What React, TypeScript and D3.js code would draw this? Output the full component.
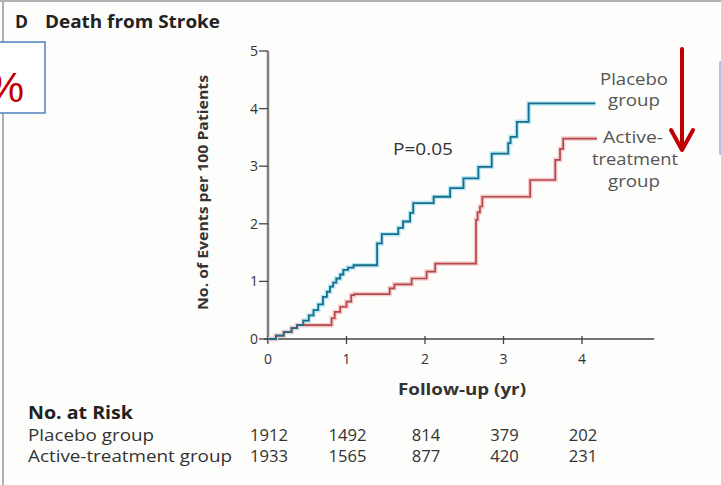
import React from "react";
import * as d3 from "d3";

const xTicks = [0, 1, 2, 3, 4];
const yTicks = [0, 1, 2, 3, 4, 5];

const placeboT = [0, 0.1, 0.2, 0.3, 0.37, 0.45, 0.52, 0.58, 0.64, 0.7, 0.75, 0.79, 0.83, 0.87, 0.92, 0.96, 1.02, 1.09, 1.39, 1.45, 1.66, 1.72, 1.81, 1.85, 2.11, 2.32, 2.49, 2.68, 2.85, 3.06, 3.09, 3.17, 3.32, 4.17];
const placeboV = [0, 0.06, 0.12, 0.19, 0.24, 0.32, 0.41, 0.5, 0.6, 0.73, 0.82, 0.91, 0.98, 1.05, 1.12, 1.2, 1.24, 1.28, 1.66, 1.82, 1.93, 2.04, 2.19, 2.36, 2.47, 2.62, 2.79, 2.99, 3.22, 3.4, 3.51, 3.77, 4.09, 4.09];

const activeT = [0, 0.1, 0.2, 0.3, 0.37, 0.81, 0.85, 0.92, 1.0, 1.06, 1.1, 1.55, 1.61, 1.83, 2.02, 2.13, 2.65, 2.67, 2.7, 2.73, 3.34, 3.66, 3.72, 3.76, 4.19];
const activeV = [0, 0.06, 0.12, 0.19, 0.24, 0.36, 0.47, 0.56, 0.65, 0.76, 0.78, 0.88, 0.95, 1.05, 1.17, 1.31, 2.07, 2.2, 2.3, 2.47, 2.76, 3.11, 3.3, 3.48, 3.48];

const riskGroups = ["Placebo group", "Active-treatment group"];
const riskGroupWidths = [126, 204];
const riskPlacebo = [1912, 1492, 814, 379, 202];
const riskActive = [1933, 1565, 877, 420, 231];

const FONT = "'Open Sans', Lato, sans-serif";
const ADJ = "spacingAndGlyphs";

export default function App() {
  const x = d3.scaleLinear().domain([0, 5]).range([268, 660.5]);
  const y = d3.scaleLinear().domain([0, 5]).range([339, 51]);
  const line = d3
    .line<[number, number]>()
    .x((d) => x(d[0]))
    .y((d) => y(d[1]))
    .curve(d3.curveStepAfter);
  const pData: [number, number][] = placeboT.map((t, i) => [t, placeboV[i]]);
  const aData: [number, number][] = activeT.map((t, i) => [t, activeV[i]]);
  const riskRows = [riskPlacebo, riskActive];

  return (
    <svg
      width={721}
      height={485}
      style={{ position: "fixed", left: 0, top: 0, display: "block" }}
      fontFamily={FONT}
    >
      <rect x={0} y={0} width={721} height={485} fill="#fdfdfb" />
      <line x1={0} x2={721} y1={1} y2={1} stroke="#b0b0b0" strokeWidth={2} />
      <line x1={3} x2={3} y1={0} y2={485} stroke="#b0b0b0" strokeWidth={2} />

      {/* title */}
      <text x={15} y={28} fontSize={17} fontWeight={700} fill="#222" textLength={13} lengthAdjust={ADJ}>D</text>
      <text x={45} y={28} fontSize={17.5} fontWeight={700} fill="#222" textLength={175} lengthAdjust={ADJ}>Death from Stroke</text>

      {/* left callout box */}
      <rect x={-2} y={42} width={47} height={71} fill="#ffffff" stroke="#4f81bd" strokeWidth={1.5} />
      <text x={24} y={102} fontSize={42} fill="#c00000" textAnchor="end" fontFamily="'Liberation Sans', Arial, sans-serif">%</text>

      {/* right callout box */}
      <rect x={720} y={62} width={10} height={92} fill="#ffffff" stroke="#95b3d7" strokeWidth={1.5} />

      {/* y axis */}
      <line x1={x(0)} x2={x(0)} y1={y(0) + 3} y2={y(5)} stroke="#808080" strokeWidth={2.5} />
      {yTicks.map((t) => (
        <g key={"yt" + t}>
          <line x1={x(0) - 9} x2={x(0)} y1={y(t)} y2={y(t)} stroke="#444" strokeWidth={1.3} />
          <text x={x(0) - 10} y={y(t) + 5} fontSize={14} textAnchor="end" fill="#333">{t}</text>
        </g>
      ))}
      <text
        transform={`translate(${208},${192.5}) rotate(-90)`}
        fontSize={14}
        fontWeight={700}
        textAnchor="middle"
        fill="#333"
        textLength={235}
        lengthAdjust={ADJ}
      >
        No. of Events per 100 Patients
      </text>

      {/* x axis */}
      <line x1={x(0) - 4} x2={x(4.92)} y1={y(0)} y2={y(0)} stroke="#444" strokeWidth={1.5} />
      {xTicks.map((t) => (
        <g key={"xt" + t}>
          <line x1={x(t)} x2={x(t)} y1={y(0) - 3} y2={y(0) + 5} stroke="#444" strokeWidth={1.3} />
          <text x={x(t)} y={364} fontSize={14} textAnchor="middle" fill="#333">{t}</text>
        </g>
      ))}
      <text x={462} y={395} fontSize={16} fontWeight={700} textAnchor="middle" fill="#333" textLength={128} lengthAdjust={ADJ}>Follow-up (yr)</text>

      {/* curves */}
      <path d={line(pData) || ""} fill="none" stroke="#b5e8f7" strokeWidth={4.5} />
      <path d={line(aData) || ""} fill="none" stroke="#f5cccc" strokeWidth={4.5} />
      <path d={line(aData) || ""} fill="none" stroke="#b4474d" strokeWidth={1.7} />
      <path d={line(pData) || ""} fill="none" stroke="#1b6c88" strokeWidth={1.8} />

      <text x={393} y={155} fontSize={15.5} fill="#333" textLength={60} lengthAdjust={ADJ}>P=0.05</text>

      {/* curve labels */}
      <g fontSize={16} fill="#555" textAnchor="middle">
        <text x={634} y={85} textLength={68} lengthAdjust={ADJ}>Placebo</text>
        <text x={634} y={106} textLength={52} lengthAdjust={ADJ}>group</text>
        <text x={633} y={143} textLength={60} lengthAdjust={ADJ}>Active-</text>
        <text x={635} y={165} textLength={86} lengthAdjust={ADJ}>treatment</text>
        <text x={634} y={187} textLength={52} lengthAdjust={ADJ}>group</text>
      </g>

      {/* red arrow */}
      <g stroke="#c00000" strokeWidth={4} fill="none" strokeLinecap="round">
        <line x1={682} x2={682} y1={49} y2={148} />
        <polyline points="671,130 682,150 693,130" strokeLinejoin="round" />
      </g>

      {/* risk table */}
      <text x={28} y={419} fontSize={17.5} fontWeight={700} fill="#222" textLength={105} lengthAdjust={ADJ}>No. at Risk</text>
      {riskGroups.map((g, i) => (
        <g key={g}>
          <text x={28} y={441 + i * 21} fontSize={17} fill="#333" textLength={riskGroupWidths[i]} lengthAdjust={ADJ}>{g}</text>
          {riskRows[i].map((n, j) => (
            <text
              key={j}
              x={x(xTicks[j]) + 1}
              y={441 + i * 21}
              fontSize={16.5}
              textAnchor="middle"
              fill="#333"
              textLength={String(n).length * 9.5}
              lengthAdjust={ADJ}
            >
              {n}
            </text>
          ))}
        </g>
      ))}
    </svg>
  );
}
